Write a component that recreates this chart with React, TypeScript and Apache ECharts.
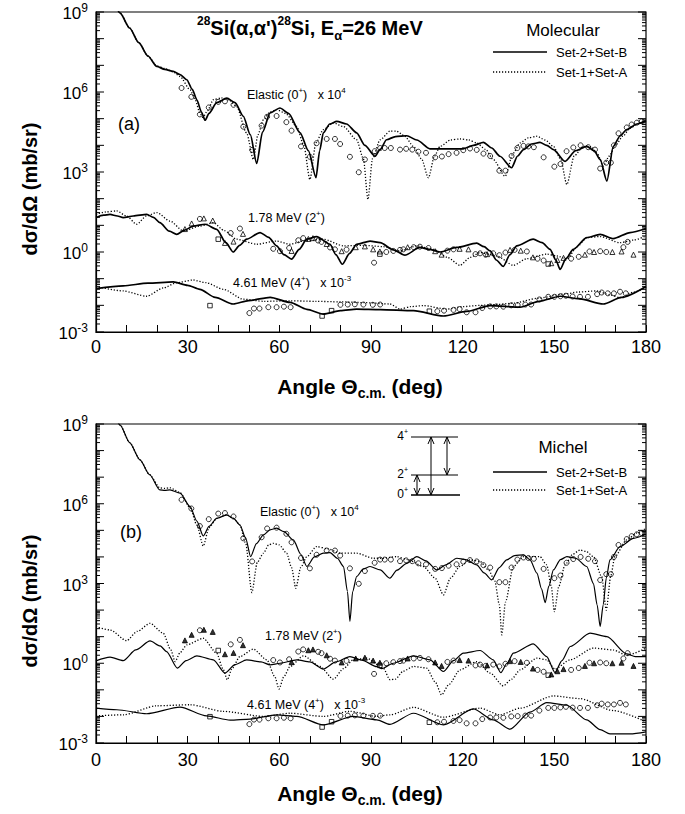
import React, { useEffect, useRef } from 'react';
import * as echarts from 'echarts';

type Pt = [number, number];
// All y values are log10 of dσ/dΩ (mb/sr); x is Θc.m. in degrees.

// ---------- Panel (a): Molecular potential ----------
const aElasticSolid: Pt[] = [[2, 10.1], [5, 9.5], [7.9, 8.96], [11, 8.4], [14, 7.85], [17, 7.35], [19.9, 6.96], [22.5, 6.85], [25.3, 6.77], [27.5, 6.65], [29.7, 6.46], [31.5, 6.1], [33, 5.71], [34.5, 5.25], [35.7, 4.94], [37, 5.2], [39.5, 5.6], [42.8, 5.77], [45.5, 5.6], [48.2, 5.09], [50.5, 4.4], [52.6, 3.32], [54.5, 4.5], [57, 5.22], [60.2, 5.4], [63, 5.2], [66.8, 4.47], [69.5, 3.8], [72, 2.79], [73.2, 3.8], [74.4, 4.47], [76.5, 4.8], [78.8, 4.9], [82, 4.8], [85.3, 4.47], [88, 4.0], [91.3, 3.59], [93, 3.85], [95.1, 4.21], [98, 4.33], [101.7, 4.36], [105, 4.2], [109.3, 3.87], [115, 3.87], [120.2, 3.87], [123.5, 4.0], [126.8, 4.11], [129.5, 3.9], [132.2, 3.59], [136, 3.16], [138, 3.6], [139.9, 3.84], [142.5, 4.05], [145.3, 4.11], [147.5, 4.0], [149.7, 3.84], [153.5, 3.4], [157, 3.8], [160.6, 3.96], [163, 3.8], [165, 3.47], [167.2, 2.66], [169.3, 3.96], [171.5, 4.35], [173.7, 4.59], [177, 4.8], [180, 4.92]];
const aElasticDotted: Pt[] = [[2, 10.1], [5, 9.5], [7.9, 8.96], [11, 8.4], [14, 7.85], [17, 7.35], [19.9, 6.98], [22.5, 6.88], [25.3, 6.75], [27.5, 6.58], [30.8, 6.08], [32.5, 5.7], [34, 5.2], [35, 5.05], [36.5, 5.3], [38.4, 5.71], [41, 5.78], [43.5, 5.7], [46, 5.46], [49.3, 4.46], [51.5, 3.47], [53, 4.4], [54.8, 4.96], [57, 5.25], [59.1, 5.34], [62, 5.2], [65.7, 4.71], [68, 4.0], [70, 2.72], [72, 4.1], [74.4, 4.59], [77.7, 4.84], [81, 4.7], [85.3, 4.21], [87.5, 3.5], [89, 1.97], [90.5, 3.5], [93, 4.21], [96.2, 4.53], [98.4, 4.53], [101, 4.35], [103.9, 3.96], [106.5, 3.5], [108.8, 2.78], [110.8, 3.6], [112.6, 3.96], [116, 4.2], [119.1, 4.24], [122, 4.2], [124.6, 4.09], [127.5, 3.85], [130, 3.47], [133.9, 2.84], [136.5, 3.7], [138.8, 4.09], [141.5, 4.28], [144.3, 4.34], [147, 4.2], [149.7, 3.96], [152, 3.5], [154.1, 2.53], [156.5, 3.6], [159.5, 3.96], [162, 3.95], [164, 3.7], [166, 3.22], [168, 3.6], [170, 4.0], [172.5, 4.35], [174.8, 4.65], [177.5, 4.82], [180, 4.92]];
const aInel2Solid: Pt[] = [[0, 1.29], [2.5, 1.38], [4.6, 1.41], [7, 1.35], [8.9, 1.29], [12.2, 1.35], [16.6, 1.41], [18.8, 1.3], [20.9, 1.1], [24, 0.78], [26.4, 0.66], [29, 0.82], [31.8, 0.97], [35.7, 1.04], [39.5, 0.85], [42.5, 0.35], [44.9, 0.0], [47, 0.25], [49.3, 0.48], [53.7, 0.73], [56.5, 0.55], [59.1, 0.23], [61.5, -0.1], [64, -0.27], [66.5, 0.1], [69, 0.48], [72.2, 0.58], [76.6, 0.29], [78.5, -0.1], [80.6, -0.46], [83, -0.05], [85.3, 0.29], [89.7, 0.41], [93, 0.35], [97.3, 0.08], [101.1, -0.12], [106, 0.17], [109, 0.1], [112.6, 0.0], [118, 0.17], [124.6, 0.33], [127, 0.2], [129, 0.04], [131, -0.3], [133.3, -0.54], [135.5, -0.1], [137.7, 0.23], [143.1, 0.48], [146, 0.35], [148.6, 0.1], [150.5, -0.3], [151.9, -0.65], [153.8, -0.25], [156.2, 0.1], [160.6, 0.54], [165, 0.66], [169.3, 0.5], [174.8, 0.73], [180, 0.88]];
const aInel2Dotted: Pt[] = [[0, 1.41], [3, 1.5], [6.8, 1.54], [10, 1.35], [13.3, 1.04], [16.5, 1.35], [19.9, 1.48], [24.2, 1.16], [28.6, 0.79], [34, 0.97], [38.4, 1.1], [42, 0.8], [46, 0.48], [52.6, 0.29], [59.1, 0.41], [63.5, 0.29], [67.8, 0.41], [74.4, 0.48], [81, 0.23], [87.5, 0.25], [94, 0.2], [99.5, 0.04], [105, 0.23], [110.4, 0.1], [115, -0.2], [119.1, -0.5], [122.5, -0.2], [125.7, -0.02], [131.2, -0.15], [136.6, -0.5], [141, -0.25], [147.5, -0.08], [151, -0.15], [154.1, -0.27], [157.5, 0.2], [160.6, 0.54], [165, 0.58], [171.5, 0.35], [176, 0.45], [180, 0.6]];
const aInel4Solid: Pt[] = [[0, -1.37], [8.9, -1.27], [17, -1.17], [25.3, -1.12], [30, -1.25], [34, -1.4], [39, -1.7], [44.9, -1.95], [50, -1.82], [57, -1.7], [63.5, -1.89], [69, -2.15], [74.4, -2.33], [80, -2.2], [85.3, -2.14], [93, -2.16], [103.9, -2.2], [113.7, -2.4], [121.3, -2.23], [129, -2.01], [138.8, -2.07], [145, -1.85], [151.9, -1.66], [158, -1.75], [166, -1.95], [172, -1.7], [180, -1.29]];
const aInel4Dotted: Pt[] = [[0, -1.29], [8.9, -1.46], [16.6, -1.66], [22, -1.35], [26.4, -1.15], [31.8, -1.05], [36, -1.15], [41.7, -1.4], [48.2, -1.77], [55, -1.85], [63.5, -1.83], [72, -1.85], [79.9, -1.87], [88, -1.9], [96.2, -1.95], [99.5, -2.14], [103, -2.05], [107.1, -2.01], [114.8, -2.14], [120, -2.05], [125.7, -2.0], [131, -1.97], [136.6, -1.92], [144.3, -1.74], [153, -1.58], [158, -1.5], [163.9, -1.46], [168, -1.6], [171.5, -1.71], [176, -1.5], [180, -1.33]];

// ---------- Panel (b): Michel potential ----------
const bElasticSolid: Pt[] = [[2, 10.3], [5, 9.5], [7.9, 8.96], [11, 8.3], [14.4, 7.65], [17.5, 7.1], [20.9, 6.52], [22.5, 6.5], [24.2, 6.52], [27.5, 6.4], [30.8, 5.89], [33, 5.35], [35.1, 4.79], [37, 5.15], [39.5, 5.45], [42.8, 5.58], [45, 5.45], [47.1, 5.2], [49, 4.7], [50.6, 4.01], [52.5, 4.5], [54.8, 4.83], [57, 5.02], [59.1, 5.08], [61.5, 4.95], [64.6, 4.64], [67, 4.1], [69, 3.64], [71.5, 4.0], [74.4, 4.14], [76.6, 4.16], [79, 3.95], [81, 3.64], [82.3, 2.7], [83.1, 1.57], [84, 2.7], [85.3, 3.26], [87.5, 3.55], [89.7, 3.64], [93, 3.51], [96.2, 3.2], [98.5, 3.5], [101.7, 3.76], [105, 4.01], [108, 3.85], [111.5, 3.51], [114.5, 3.7], [118.1, 3.95], [121, 3.9], [124.6, 3.7], [127, 3.4], [129.5, 3.14], [132, 3.6], [134.4, 3.89], [137, 4.05], [139.9, 4.08], [142, 3.9], [144.3, 3.39], [145.8, 2.8], [147, 2.28], [148.2, 2.9], [149.7, 3.51], [152, 3.9], [154.1, 4.01], [157, 3.95], [160.6, 3.64], [162.8, 3.0], [164, 2.2], [165, 1.38], [166, 2.2], [167, 3.2], [168.2, 3.89], [171.5, 4.39], [175.9, 4.7], [180, 4.85]];
const bElasticDotted: Pt[] = [[2, 10.3], [5, 9.5], [7.9, 8.96], [11, 8.3], [14.4, 7.65], [17.5, 7.1], [20.9, 6.6], [22.5, 6.58], [24.2, 6.6], [27.5, 6.42], [30.8, 5.85], [33, 5.2], [35.1, 4.41], [37, 5.1], [39.5, 5.45], [42.8, 5.58], [45, 5.45], [47.1, 5.2], [49, 4.5], [51, 2.66], [52.8, 3.8], [54.8, 4.14], [56.5, 4.45], [58, 4.51], [60, 4.45], [62.4, 4.14], [64, 3.6], [65.4, 2.82], [67, 3.6], [69, 4.01], [72.2, 4.39], [76, 4.3], [79.9, 4.14], [85.3, 4.14], [90.8, 3.95], [93.9, 3.95], [98.4, 4.01], [102, 3.9], [107.1, 3.64], [111, 3.2], [113.7, 2.57], [116, 3.2], [119.1, 3.64], [122.4, 3.89], [125.7, 3.83], [128.5, 3.5], [130.5, 3.1], [132, 2.2], [132.8, 1.07], [134, 2.3], [136.6, 3.64], [139.9, 4.01], [145.3, 4.01], [147.5, 3.7], [149, 2.9], [150, 1.94], [151.5, 2.9], [153.5, 3.7], [156, 4.1], [158.4, 4.26], [160.5, 4.2], [162.8, 4.01], [165.5, 3.26], [167, 2.0], [168.5, 3.3], [169.8, 4.01], [173.7, 4.64], [177, 4.9], [180, 5.08]];
const bInel2Solid: Pt[] = [[0, 0.09], [4.6, 0.23], [8.9, 0.1], [13, 0.5], [17.7, 0.84], [21, 0.65], [23.1, 0.44], [26.6, -0.18], [29.5, 0.1], [33, 0.28], [38.4, 0.13], [42.2, -0.37], [45.5, -0.05], [49.3, 0.13], [54, 0.05], [57, -0.06], [60.2, 0.0], [65.7, 0.13], [70, 0.05], [74.4, -0.22], [78.5, 0.05], [83.1, 0.25], [87, 0.12], [91.9, -0.13], [93.5, -0.2], [97.3, 0.0], [103.9, 0.28], [109.3, 0.13], [113.7, -0.31], [117, 0.1], [120.2, 0.38], [125.7, 0.48], [130, 0.13], [132.5, -0.35], [134.5, 0.0], [136.6, 0.38], [143.1, 0.73], [147.5, 0.25], [150.2, -0.35], [152.5, 0.1], [155.2, 0.63], [161.7, 1.13], [167.2, 1.0], [173.7, 0.35], [176.5, 0.25], [180, 0.25]];
const bInel2Dotted: Pt[] = [[0, 1.38], [4.6, 1.25], [10, 0.85], [13.5, 1.2], [17.7, 1.5], [22, 1.13], [24.5, 0.5], [25.9, 0.06], [27.5, 0.4], [29.7, 0.69], [35.1, 0.94], [39.5, 0.38], [41.5, -0.2], [43, -0.62], [44.5, -0.2], [47.1, 0.25], [51.5, 0.53], [55.9, 0.13], [58.5, -0.5], [59.9, -0.97], [61.5, -0.5], [63.5, -0.12], [67.9, 0.28], [73.3, -0.12], [77.7, -0.6], [81, -0.2], [84.2, 0.13], [88.6, 0.19], [94, -0.18], [96.2, -0.62], [98, -0.6], [100.5, -0.3], [103.9, -0.12], [108.2, -0.18], [111, -0.7], [113.1, -1.19], [115.5, -0.8], [119.1, -0.25], [124.6, 0.06], [129, -0.37], [133.3, -0.85], [136, -0.6], [138.8, -0.25], [144.3, 0.19], [147.5, 0.13], [150.2, -0.22], [155.2, 0.13], [162.8, 0.57], [169.3, 0.5], [173.7, 0.3], [180, 0.57]];
const bInel4Solid: Pt[] = [[0, -1.69], [6.8, -1.75], [16.6, -1.9], [27.5, -1.65], [36.2, -1.98], [43.9, -2.14], [50.4, -2.1], [59.1, -1.94], [65.7, -2.0], [74.4, -2.32], [84.2, -2.0], [91.9, -2.13], [96.2, -2.3], [103.9, -1.88], [113.7, -2.32], [123.5, -1.72], [130, -2.13], [135.5, -2.48], [142, -1.84], [147.5, -1.48], [154.1, -1.58], [160.6, -2.13], [165, -2.5], [168.2, -2.66], [174.8, -2.66], [180, -2.58]];
const bInel4Dotted: Pt[] = [[0, -1.98], [8.9, -1.94], [19.9, -1.6], [30.8, -1.56], [41.7, -1.81], [54.8, -2.0], [63.5, -1.88], [74.4, -2.0], [83.1, -1.81], [91.9, -2.0], [96.2, -1.94], [103.9, -1.66], [113.7, -2.03], [125.7, -1.69], [132.2, -1.94], [138.8, -1.69], [149.7, -1.23], [158.4, -1.33], [169.3, -1.78], [180, -2.2]];

// ---------- Experimental data (same in both panels) ----------
const expElastic: Pt[] = [[28, 6.15], [31.2, 5.82], [34, 5.16], [36.9, 5.42], [40, 5.63], [42.2, 5.65], [45, 5.52], [48.2, 4.7], [51.1, 3.83], [54.2, 4.74], [56, 5.07], [59.1, 5.1], [62.3, 4.87], [64, 4.55], [67.1, 3.96], [70, 3.57], [72.2, 4.08], [75.5, 4.24], [78.2, 4.24], [79.9, 4.05], [83.1, 3.57], [86, 2.99], [88, 3.47], [91.2, 3.78], [93, 3.9], [94.5, 3.9], [96.5, 3.9], [99.5, 3.84], [101.5, 3.87], [103.5, 3.84], [105.5, 3.76], [108, 3.72], [111, 3.55], [113.2, 3.58], [115.4, 3.67], [118, 3.72], [120.2, 3.82], [122.4, 3.88], [124.6, 3.83], [126.8, 3.69], [129, 3.6], [132, 3.05], [134, 3.05], [136, 3.6], [137.9, 3.9], [139.9, 3.98], [141.5, 3.96], [143.3, 3.93], [146.5, 3.55], [150, 3.2], [152, 3.3], [154, 3.78], [156.2, 3.92], [158.6, 4.0], [161.1, 3.93], [163.3, 3.84], [165, 3.13], [167, 3.35], [168.5, 3.35], [169.5, 4.0], [171, 4.45], [173.7, 4.67], [175.3, 4.78], [177, 4.85], [178.6, 4.9]];
const exp2Circles: Pt[] = [[34, 1.24], [44.1, 0.71], [47.1, 0.88], [58, 0.12], [60.2, 0.03], [63.2, 0.15], [66.2, 0.44], [67.8, 0.52], [72.7, 0.43], [73.8, 0.38], [76.6, 0.17], [78.2, 0.1], [82, 0.09], [91, -0.4], [95, 0.0], [97.3, 0.04], [99.5, 0.08], [100.6, 0.1], [104, 0.18], [106, 0.2], [108.8, 0.15], [115, 0.05], [117, 0.1], [124.2, -0.08], [125.7, -0.05], [127.5, -0.1], [130, -0.05], [132, -0.12], [134, -0.02], [137, 0.08], [141, 0.02], [144.5, -0.25], [146.5, -0.32], [155.5, -0.25], [158, -0.18], [161.5, 0.02], [165, 0.03], [167, 0.0], [172.6, 0.18], [174, 0.38]];
const exp2Triangles: Pt[] = [[29.1, 0.86], [31.3, 1.07], [35.3, 1.26], [38.2, 1.18], [42.2, 0.34], [45, 0.39], [48.1, 0.68], [64, 0.04], [69.5, 0.49], [71, 0.52], [75.5, 0.3], [80.4, 0.03], [85, 0.18], [88, 0.21], [90.7, 0.1], [92.9, 0.02], [102, 0.18], [111, 0.03], [113.1, -0.1], [119, 0.12], [121.9, 0.1], [128, -0.08], [135.5, 0.08], [139, 0.05], [143, -0.2], [149, -0.42], [151, -0.3], [153, -0.22], [160, -0.1], [163, 0.0], [169, 0.0], [172, 0.02], [175.9, -0.1]];
const exp2Squares: Pt[] = [[40, 0.48], [92.9, -0.08], [148, -0.45]];
const exp4Circles: Pt[] = [[50.2, -2.29], [51.7, -2.12], [53.5, -2.12], [56.4, -2.07], [59.1, -2.07], [61.5, -2.05], [63.7, -2.07], [80, -1.98], [82.4, -1.97], [84.7, -1.96], [87.5, -1.97], [90.6, -1.98], [93, -1.97], [111.7, -2.22], [113.9, -2.2], [117, -2.17], [119, -2.14], [121.3, -2.26], [124.2, -2.26], [126.4, -2.1], [129, -2.04], [131, -2.04], [133.3, -2.05], [135.9, -2.0], [138, -1.99], [140.5, -1.97], [142.4, -1.97], [145.1, -1.78], [148, -1.68], [150, -1.68], [152, -1.66], [153.8, -1.64], [156, -1.67], [158.4, -1.68], [161, -1.68], [164, -1.58], [165.5, -1.52], [167.5, -1.55], [169.5, -1.55], [171.5, -1.49], [173.4, -1.55]];
const exp4Squares: Pt[] = [[37.3, -2.01], [74, -2.4], [77.1, -2.2], [109.1, -2.22]];

// Axis ticks
const xTickLabels = [0, 30, 60, 90, 120, 150, 180];
const yDecadeLabels = [-3, 0, 3, 6, 9];

const FONT = "'Liberation Sans', Arial, Helvetica, sans-serif";

const toSeries = (d: Pt[]) => d.map(([x, e]) => [x, e]);

export default function App() {
  const ref = useRef<HTMLDivElement>(null);
  useEffect(() => {
    document.body.style.margin = '0';
    const chart = echarts.init(ref.current!, null, { renderer: 'svg' });

    const yTicks: number[][] = [];
    for (let n = -3; n < 9; n++) {
      for (let k = 1; k <= 9; k++) yTicks.push([0, n + Math.log10(k), k === 1 ? 1 : 0]);
    }
    yTicks.push([0, 9, 1]);

    const grids = [
      { left: 96, top: 12, width: 550, height: 320 },
      { left: 96, top: 424, width: 550, height: 319 },
    ];

    const xAxes = grids.map((_, i) => ({
      type: 'value', gridIndex: i, min: 0, max: 180, interval: 10,
      axisLine: { show: true, onZero: false, lineStyle: { color: '#000', width: 1.2 } },
      axisTick: { show: true, inside: true, length: 7, lineStyle: { color: '#000' } },
      splitLine: { show: false },
      axisLabel: {
        margin: i === 0 ? 6 : 8, fontSize: 18, color: '#000', fontFamily: FONT,
        formatter: (v: number) => (xTickLabels.includes(v) ? String(v) : ''),
      },
    }));
    const yAxes = grids.map((_, i) => ({
      type: 'value', gridIndex: i, min: -3, max: 9, interval: 3,
      axisLine: { show: true, onZero: false, lineStyle: { color: '#000', width: 1.2 } },
      axisTick: { show: false },
      splitLine: { show: false },
      axisLabel: {
        margin: 8, color: '#000', fontFamily: FONT,
        formatter: (v: number) => (yDecadeLabels.includes(v) ? `{b|10}{s|${v}}` : ''),
        rich: {
          b: { fontSize: 17, fontFamily: FONT, color: '#000', lineHeight: 20, verticalAlign: 'bottom' },
          s: { fontSize: 12, fontFamily: FONT, color: '#000', lineHeight: 12, verticalAlign: 'top' },
        },
      },
    }));

    const line = (d: Pt[], i: number, dotted: boolean, width: number) => ({
      type: 'line', xAxisIndex: i, yAxisIndex: i, data: toSeries(d), symbol: 'none', showSymbol: false,
      smooth: 0.25, smoothMonotone: 'x', clip: true, silent: true, z: 3,
      lineStyle: { color: '#000', width, type: dotted ? [1.2, 1.8] : 'solid' },
    });
    const scatter = (d: Pt[], i: number, symbol: string, filled: boolean, size: number) => ({
      type: 'scatter', xAxisIndex: i, yAxisIndex: i, data: toSeries(d), symbol, symbolSize: size,
      silent: true, z: 4,
      itemStyle: { color: filled ? '#000' : 'rgba(255,255,255,0)', borderColor: '#000', borderWidth: 1 },
    });
    const tickSeries = (i: number) => ({
      type: 'custom', xAxisIndex: i, yAxisIndex: i, data: yTicks, silent: true, clip: false, z: 5,
      encode: { x: 0, y: 1 },
      renderItem: (_p: any, api: any) => {
        const v = api.value(1);
        const major = api.value(2) === 1;
        const l = api.coord([0, v]);
        const r = api.coord([180, v]);
        const len = major ? 8 : 4;
        return {
          type: 'group',
          children: [
            { type: 'line', shape: { x1: l[0], y1: l[1], x2: l[0] + len, y2: l[1] }, style: { stroke: '#000', lineWidth: 1 } },
            { type: 'line', shape: { x1: r[0], y1: r[1], x2: r[0] - len, y2: r[1] }, style: { stroke: '#000', lineWidth: 1 } },
          ],
        };
      },
    });

    const series: any[] = [
      tickSeries(0), tickSeries(1),
      line(aElasticSolid, 0, false, 1.7), line(aElasticDotted, 0, true, 1.3),
      line(aInel2Solid, 0, false, 1.7), line(aInel2Dotted, 0, true, 1.3),
      line(aInel4Solid, 0, false, 1.7), line(aInel4Dotted, 0, true, 1.3),
      scatter(expElastic, 0, 'circle', false, 5),
      scatter(exp2Circles, 0, 'circle', false, 5),
      scatter(exp2Triangles, 0, 'triangle', false, 5),
      scatter(exp2Squares, 0, 'rect', false, 4.5),
      scatter(exp4Circles, 0, 'circle', false, 5),
      scatter(exp4Squares, 0, 'rect', false, 4.5),
      line(bElasticSolid, 1, false, 1.2), line(bElasticDotted, 1, true, 1.3),
      line(bInel2Solid, 1, false, 1.2), line(bInel2Dotted, 1, true, 1.3),
      line(bInel4Solid, 1, false, 1.2), line(bInel4Dotted, 1, true, 1.3),
      scatter(expElastic, 1, 'circle', false, 5),
      scatter(exp2Circles, 1, 'circle', false, 5),
      scatter(exp2Triangles, 1, 'triangle', true, 5),
      scatter(exp2Squares, 1, 'rect', false, 4.5),
      scatter(exp4Circles, 1, 'circle', false, 5),
      scatter(exp4Squares, 1, 'rect', false, 4.5),
    ];

    const txt = (x: number, y: number, text: string, size: number, opts: any = {}) => ({
      type: 'text', x, y, silent: true, z: 10, rotation: opts.rotation || 0,
      style: {
        text, fill: '#000', fontFamily: FONT, fontSize: size, fontWeight: opts.bold ? 'bold' : 'normal',
        align: opts.align || 'left', verticalAlign: 'middle',
        rich: {
          sup: { fontSize: Math.round(size * 0.62), fontFamily: FONT, fontWeight: opts.bold ? 'bold' : 'normal', fill: '#000', verticalAlign: 'top', lineHeight: Math.round(size * 0.62) },
          sub: { fontSize: Math.round(size * 0.65), fontFamily: FONT, fontWeight: opts.bold ? 'bold' : 'normal', fill: '#000', verticalAlign: 'bottom', lineHeight: Math.round(size * 0.65) },
          n: { fontSize: size, fontFamily: FONT, fontWeight: opts.bold ? 'bold' : 'normal', fill: '#000', lineHeight: Math.round(size * 1.35) },
        },
      },
    });
    const seg = (x1: number, y1: number, x2: number, y2: number, dotted = false, w = 1.2) => ({
      type: 'line', silent: true, z: 10,
      shape: { x1, y1, x2, y2 },
      style: { stroke: '#000', lineWidth: w, lineDash: dotted ? [1.2, 1.8] : null },
    });
    const arrow = (x: number, y1: number, y2: number) => [
      seg(x, y1, x, y2, false, 1),
      { type: 'polyline', silent: true, z: 10, shape: { points: [[x - 3, y1 + 7], [x, y1], [x + 3, y1 + 7]] }, style: { stroke: '#000', fill: 'none', lineWidth: 1 } },
      { type: 'polyline', silent: true, z: 10, shape: { points: [[x - 3, y2 - 7], [x, y2], [x + 3, y2 - 7]] }, style: { stroke: '#000', fill: 'none', lineWidth: 1 } },
    ];

    const graphic: any[] = [
      // Panel (a)
      txt(197, 28, "{sup|28}{n|Si(α,α')}{sup|28}{n|Si, E}{sub|α}{n|=26 MeV}", 20, { bold: true }),
      txt(563, 30, 'Molecular', 17, { align: 'center' }),
      seg(493, 52, 547, 52, false, 1.3), txt(556, 52, 'Set-2+Set-B', 13),
      seg(493, 72, 547, 72, true, 1.3), txt(556, 72, 'Set-1+Set-A', 13),
      txt(129, 124, '(a)', 18, { align: 'center' }),
      txt(247, 95, '{n|Elastic (0}{sup|+}{n|)   x 10}{sup|4}', 12.5),
      txt(248, 218, '{n|1.78 MeV (2}{sup|+}{n|)}', 12.5),
      txt(233, 283, '{n|4.61 MeV (4}{sup|+}{n|)   x 10}{sup|-3}', 12.5),
      txt(30, 189, 'dσ/dΩ (mb/sr)', 20, { bold: true, align: 'center', rotation: Math.PI / 2 }),
      txt(360, 386, '{n|Angle Θ}{sub|c.m.}{n| (deg)}', 21, { bold: true, align: 'center' }),
      // Panel (b)
      txt(563, 447, 'Michel', 17, { align: 'center' }),
      seg(493, 472, 547, 472, false, 1.3), txt(556, 472, 'Set-2+Set-B', 13),
      seg(493, 490, 547, 490, true, 1.3), txt(556, 490, 'Set-1+Set-A', 13),
      txt(131, 532, '(b)', 18, { align: 'center' }),
      txt(260, 512, '{n|Elastic (0}{sup|+}{n|)   x 10}{sup|4}', 12.5),
      txt(265, 636, '{n|1.78 MeV (2}{sup|+}{n|)}', 12.5),
      txt(247, 705, '{n|4.61 MeV (4}{sup|+}{n|)   x 10}{sup|-3}', 12.5),
      txt(30, 601, 'dσ/dΩ (mb/sr)', 20, { bold: true, align: 'center', rotation: Math.PI / 2 }),
      txt(360, 793, '{n|Angle Θ}{sub|c.m.}{n| (deg)}', 21, { bold: true, align: 'center' }),
      // level scheme inset
      seg(411, 437, 458, 437, false, 1), seg(411, 475, 458, 475, false, 1), seg(411, 495, 460, 495, false, 1.3),
      txt(408, 436, '{n|4}{sup|+}', 12, { align: 'right' }),
      txt(408, 474, '{n|2}{sup|+}', 12, { align: 'right' }),
      txt(408, 494, '{n|0}{sup|+}', 12, { align: 'right' }),
      ...arrow(417, 475, 495),
      ...arrow(431, 437, 495),
      ...arrow(447, 437, 475),
    ];

    chart.setOption({
      animation: false,
      backgroundColor: '#fff',
      grid: grids.map((g) => ({ ...g, show: true, borderColor: '#000', borderWidth: 1.2, backgroundColor: 'transparent' })),
      xAxis: xAxes,
      yAxis: yAxes,
      series,
      graphic,
    } as any);
    return () => chart.dispose();
  }, []);
  return <div ref={ref} style={{ width: 685, height: 814 }} />;
}
